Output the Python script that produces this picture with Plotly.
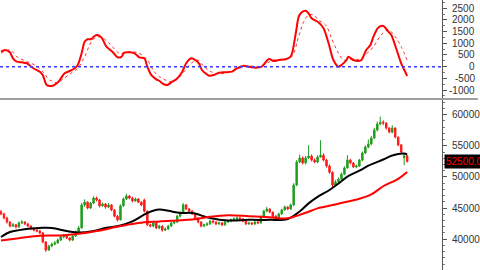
import plotly.graph_objects as go

# ---------------- price data (daily candles) ----------------
opens = [44400, 44050, 43400, 42750, 42100, 42300, 41950, 42600, 42750, 42450,
         42100, 41650, 41450, 41300, 41000, 39550, 38250, 38900, 39200, 39400,
         39850, 40350, 40500, 40200, 39850, 40500, 41150, 41800, 45500, 45950,
         45000, 45800, 46600, 46300, 45350, 45650, 45150, 45500, 44700, 43700,
         43100, 45350, 46450, 46950, 46600, 46150, 46450, 45950, 46300, 44500,
         42300, 42100, 42600, 41800, 42100, 41450, 41650, 42100, 42600, 42750,
         43700, 44200, 45500, 44850, 44500, 44050, 43400, 42750, 42100, 42300,
         42450, 42900, 42750, 42450, 42600, 42300, 42750, 42900, 43100, 43250,
         43400, 43250, 42900, 42450, 42600, 42450, 42750, 42600, 43550, 44500,
         44850, 44350, 43700, 43250, 44050, 44700, 45150, 44850, 45500, 48700,
         52400, 53050, 52250, 53050, 53350, 52700, 52400, 53200, 53500, 52700,
         51750, 50750, 48700, 49200, 49650, 50450, 51450, 52700, 52250, 51600,
         51750, 52700, 53850, 54800, 55300, 56250, 57550, 58500, 58800, 58650,
         57850, 57200, 57850, 56400, 55150, 53100, 53400]
highs = [44700, 44250, 43600, 42900, 42600, 42450, 42850, 43050, 42900, 42600,
         42250, 41850, 41650, 41500, 41150, 39700, 39100, 39450, 39700, 40100,
         40600, 40800, 40700, 40350, 40700, 41400, 42100, 45800, 46400, 46100,
         46000, 46900, 46850, 46450, 45900, 45800, 45800, 45650, 44850, 43900,
         45600, 46700, 47300, 47100, 46800, 46700, 46600, 46100, 46500, 44600,
         42500, 42800, 42700, 42300, 42200, 41900, 42300, 42800, 43000, 43900,
         44500, 45800, 45650, 45000, 44700, 44200, 43500, 42900, 42500, 42700,
         43100, 43100, 42900, 42800, 42800, 42900, 43100, 43300, 43500, 43600,
         43600, 43400, 43000, 42800, 42750, 42900, 42900, 43800, 44700, 45200,
         44950, 44400, 43850, 44250, 44900, 45400, 45300, 45700, 49000, 52700,
         53600, 53300, 53400, 55100, 53600, 53000, 53500, 55900, 53800, 52900,
         52000, 50900, 49500, 49900, 50700, 51700, 53500, 52900, 52400, 52000,
         52900, 54100, 55100, 56000, 56600, 57900, 58900, 59700, 59100, 58800,
         58000, 58300, 58000, 56500, 55300, 53700, 53500]
lows = [43850, 43200, 42500, 41900, 41950, 41750, 41850, 42450, 42250, 41900,
        41450, 41250, 41100, 40800, 39350, 37950, 38100, 38700, 39000, 39250,
        39700, 40150, 40000, 39650, 39700, 40350, 41000, 41700, 45200, 44800,
        44850, 45600, 46050, 45100, 45200, 44900, 45000, 44500, 43500, 42850,
        43000, 45200, 46300, 46400, 45900, 46000, 45800, 45300, 44300, 42100,
        41900, 41900, 41600, 41600, 41200, 41300, 41500, 42000, 42400, 42600,
        43500, 44100, 44700, 44300, 43900, 43200, 42550, 41900, 41900, 42100,
        42300, 42500, 42250, 42300, 42100, 42150, 42600, 42700, 42900, 43100,
        43050, 42700, 42250, 42300, 42250, 42300, 42400, 42500, 43400, 44350,
        44150, 43500, 43050, 43150, 43900, 44600, 44650, 44700, 45300, 48500,
        52200, 52000, 52000, 52900, 52500, 52200, 52200, 53100, 52500, 51500,
        50500, 48200, 48500, 49000, 49500, 50300, 51300, 52000, 51400, 51400,
        51600, 52500, 53700, 54600, 55100, 56100, 57300, 58300, 58300, 57600,
        57000, 57000, 56200, 54900, 53700, 51900, 52300]
closes = [44050, 43400, 42750, 42100, 42300, 41950, 42600, 42750, 42450, 42100,
          41650, 41450, 41300, 41000, 39550, 38250, 38900, 39200, 39400, 39850,
          40350, 40500, 40200, 39850, 40500, 41150, 41800, 45500, 45950, 45000,
          45800, 46600, 46300, 45350, 45650, 45150, 45500, 44700, 43700, 43100,
          45350, 46450, 46950, 46600, 46150, 46450, 45950, 45500, 44500, 42300,
          42100, 42600, 41800, 42100, 41450, 41650, 42100, 42600, 42750, 43700,
          44200, 45500, 44850, 44500, 44050, 43400, 42750, 42100, 42300, 42450,
          42900, 42750, 42450, 42600, 42300, 42750, 42900, 43100, 43250, 43400,
          43250, 42900, 42450, 42600, 42450, 42750, 42600, 43550, 44500, 44850,
          44350, 43700, 43250, 44050, 44700, 45150, 44850, 45500, 48700, 52400,
          53050, 52250, 53050, 53350, 52700, 52400, 53200, 53500, 52700, 51750,
          50750, 48700, 49200, 49650, 50450, 51450, 52700, 52250, 51600, 51750,
          52700, 53850, 54800, 55300, 56250, 57550, 58500, 58800, 58650, 57850,
          57200, 57850, 56400, 55150, 54000, 53400, 52500]
bar_index = list(range(len(closes)))

# ---------------- moving averages ----------------
ma_black_idx = [0, 3, 6, 10, 13, 17, 22, 26, 31, 35, 40, 44, 49, 53, 56, 60, 64,
                70, 76, 83, 90, 96, 100, 103, 106, 110, 113, 116, 120, 123, 128,
                131, 135, 136]
ma_black = [40350, 41150, 41450, 41700, 41800, 41800, 41300, 41050, 41300, 41800,
            42200, 42850, 44200, 44750, 44550, 44200, 44200, 43400, 43000, 43100,
            43100, 43250, 44450, 45750, 46800, 47900, 48950, 50050, 51000, 51800,
            52800, 53450, 53750, 53600]
ma_red_idx = [0, 6, 13, 20, 26, 32, 40, 46, 53, 64, 70, 76, 83, 90, 96, 100, 103,
              106, 113, 120, 124, 128, 133, 136]
ma_red = [39800, 40150, 40550, 40600, 40850, 41300, 42100, 42600, 42850, 43150,
          43600, 43850, 43700, 43500, 43350, 43900, 44400, 44950, 45700, 46500,
          47200, 48500, 49700, 50800]

# ---------------- MACD ----------------
macd_idx = [0, 1.3, 3, 4, 5.3, 7, 8.7, 9.7, 11.3, 13, 14, 15.3, 17.3, 18.7, 19.7,
            21.3, 23, 24.7, 25.7, 27, 28, 29, 30.3, 31.3, 32.3, 33.7, 35.3, 37.3,
            39, 40.3, 41.3, 43, 44.7, 46.3, 48, 49, 50.3, 52, 53, 54, 55.7, 57.3,
            58.7, 60.7, 62, 63.7, 64.7, 66.3, 67.3, 69.7, 71.3, 73, 75.3, 77.3,
            79, 81.3, 83, 85.3, 87.3, 89.7, 91.3, 93, 95.3, 97, 98.7, 99.7, 100.7,
            102, 103, 104, 106.3, 108, 109.7, 111.3, 113, 114, 115.7, 116.3, 118,
            119.7, 120.7, 122.3, 123.7, 124.7, 126.3, 128, 129.7, 130.7, 132.3,
            134, 135.3, 136]
macd = [640, 713, 615, 359, 213, 188, 145, 43, -98, -213, -354, -781, -811, -709,
        -568, -282, -184, -68, 73, 572, 1068, 1170, 1183, 1311, 1354, 1238, 854,
        640, 401, 420, 598, 615, 572, 401, 359, 0, -354, -538, -600, -709, -781,
        -640, -538, -213, 145, 359, 316, 145, -141, -384, -354, -256, -239, -213,
        -68, 43, 0, -43, 0, 329, 243, 286, 316, 427, 1426, 2135, 2323, 2391, 2280,
        2067, 1900, 1640, 999, 286, 0, 73, 286, 427, 286, 243, 286, 713, 927,
        1281, 1665, 1738, 1495, 1354, 786, 145, -213, -397]
signal_idx = [0, 3, 5.3, 8.7, 11.3, 14, 16.3, 18.7, 20.7, 23, 25.7, 28, 30.3, 32.3,
              34.7, 37.3, 39.7, 43, 46.3, 49, 51.3, 53, 54, 56.3, 58.7, 61.3, 63.7,
              65.7, 68, 70.3, 73, 76.3, 79.7, 83, 86.3, 89, 91.3, 94.7, 97.3, 99.7,
              101.3, 103, 104.7, 106.3, 108.7, 110.7, 113, 114.7, 117, 119.7, 122,
              124.7, 127.3, 129.7, 132, 134, 136]
signal = [572, 713, 427, 213, 73, -213, -568, -683, -538, -312, -68, 427, 1068,
          1281, 1170, 854, 572, 640, 572, 286, -213, -427, -495, -640, -568, -213,
          145, 286, 0, -213, -312, -213, -68, 30, 0, 145, 286, 329, 427, 1300,
          1900, 2208, 2208, 1994, 1781, 1213, 572, 286, 316, 316, 500, 854, 1354,
          1567, 1281, 854, 286]

macd_ticks = [2500, 2000, 1500, 1000, 500, 0, -500, -1000]
price_ticks = [40000, 45000, 50000, 55000, 60000]
last_price_label = "52500.00"

# ---------------- figure ----------------
W, H = 480, 270
PLOT_R = 444  # px where right axis sits
fig = go.Figure()

fig.add_trace(go.Candlestick(
    x=bar_index, open=opens, high=highs, low=lows, close=closes,
    increasing=dict(line=dict(color="#1f9e1f", width=1), fillcolor="#1f9e1f"),
    decreasing=dict(line=dict(color="#ff1a1a", width=1), fillcolor="#ff1a1a"),
    whiskerwidth=0, xaxis="x", yaxis="y", showlegend=False, hoverinfo="skip"))

fig.add_trace(go.Scatter(x=ma_black_idx, y=ma_black, mode="lines",
                         line=dict(color="#000000", width=2, shape="spline", smoothing=1),
                         xaxis="x", yaxis="y", showlegend=False, hoverinfo="skip"))
fig.add_trace(go.Scatter(x=ma_red_idx, y=ma_red, mode="lines",
                         line=dict(color="#ff0000", width=2, shape="spline", smoothing=1),
                         xaxis="x", yaxis="y", showlegend=False, hoverinfo="skip"))

fig.add_trace(go.Scatter(x=signal_idx, y=signal, mode="lines",
                         line=dict(color="#ff3030", width=1, dash="dot", shape="spline", smoothing=1),
                         xaxis="x2", yaxis="y2", showlegend=False, hoverinfo="skip"))
fig.add_trace(go.Scatter(x=macd_idx, y=macd, mode="lines",
                         line=dict(color="#ff0000", width=2, shape="spline", smoothing=0.8),
                         xaxis="x2", yaxis="y2", showlegend=False, hoverinfo="skip"))

xr = [-1 / 3, PLOT_R / 3 - 1 / 3]
top_px, sep_px = 98, 100
fig.update_layout(
    width=W, height=H, autosize=False,
    margin=dict(l=0, r=W - PLOT_R, t=0, b=0),
    paper_bgcolor="white", plot_bgcolor="white",
    xaxis=dict(domain=[0, 1], range=xr, visible=False, rangeslider=dict(visible=False)),
    xaxis2=dict(domain=[0, 1], range=xr, visible=False, anchor="y2"),
    yaxis=dict(domain=[0, 1 - sep_px / H], range=[35043, 62362], side="right",
               anchor="x", showgrid=False, zeroline=False, showline=True,
               linecolor="#555555", linewidth=1, ticks="outside", ticklen=4,
               tickcolor="#555555", tickvals=price_ticks,
               ticktext=[str(v) for v in price_ticks],
               tickfont=dict(family="Liberation Sans, Arial", size=10, color="#333333"),
               ticklabelstandoff=3,
               minor=dict(dtick=1000, ticks="outside", ticklen=2, tickcolor="#777777")),
    yaxis2=dict(domain=[1 - top_px / H, 1], range=[-1337, 2848], side="right",
                anchor="x2", showgrid=False, zeroline=False, showline=True,
                linecolor="#555555", linewidth=1, ticks="outside", ticklen=4,
                tickcolor="#555555", tickvals=macd_ticks, showticklabels=False,
                minor=dict(dtick=250, ticks="outside", ticklen=2, tickcolor="#777777")),
)

# zero line of MACD
fig.add_shape(type="line", xref="paper", x0=0, x1=1, yref="y2", y0=0, y1=0,
              line=dict(color="#3a3aff", width=1.5, dash="dot"))
# separator line between panels
fig.add_shape(type="rect", xref="paper", x0=0, x1=W / PLOT_R, yref="paper",
              y0=1 - (sep_px) / H, y1=1 - (top_px) / H,
              fillcolor="#a0a0a0", line=dict(width=0), layer="above")

# right-aligned MACD tick labels
for v in macd_ticks:
    fig.add_annotation(x=479 / PLOT_R, xref="paper", y=v, yref="y2", text=str(v),
                       showarrow=False, xanchor="right", yanchor="middle",
                       font=dict(family="Liberation Sans, Arial", size=10, color="#333333"))

# last price label
fig.add_annotation(x=446 / PLOT_R, xref="paper", y=closes[-1], yref="y",
                   text=last_price_label, showarrow=False, xanchor="left",
                   yanchor="middle", bgcolor="#000000", borderpad=1,
                   font=dict(family="Liberation Sans, Arial", size=10, color="#ff0000"))

fig.write_html("out.html", config={"displayModeBar": False})
